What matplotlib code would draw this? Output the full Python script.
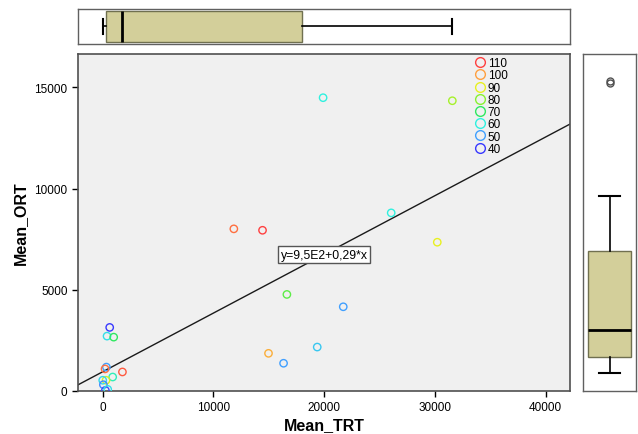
import matplotlib.pyplot as plt
import numpy as np
from matplotlib import colors
from matplotlib.lines import Line2D

plt.rcParams['font.family'] = ['Liberation Sans', 'DejaVu Sans']

## DATA

mean_trt = [19900, 31570, 26050, 11840, 14430, 30210, 16630, 21720, 19370, 14970,
            16330, 630, 390, 990, 330, 210, 1780, 900, 300, 0, 60, 240, 450]
mean_ort = [14490, 14340, 8800, 8010, 7940, 7350, 4770, 4160, 2170, 1860,
            1370, 3140, 2710, 2660, 1180, 1090, 940, 690, 530, 530, 310, 30, 80]
group_val = [60, 83, 60, 105, 110, 90, 75, 50, 55, 98,
             50, 40, 58, 70, 50, 105, 107, 63, 88, 57, 48, 42, 58]

legend_vals = [110, 100, 90, 80, 70, 60, 50, 40]
legend_cols = ['#ff4040', '#ffa040', '#e8f020', '#88f030',
               '#30e860', '#30f0e0', '#40a0ff', '#3838ff']

fit_intercept = 9.5e2
fit_slope = 0.29
fit_label = 'y=9,5E2+0,29*x'

# marginal box plots
trt_box = dict(whislo=30, q1=330, med=1770, q3=18000, whishi=31500, fliers=[])
ort_box = dict(whislo=890, q1=1680, med=2990, q3=6910, whishi=9655, fliers=[15200, 15320])

## PLOT

xlim = (-2230, 42200)
ylim = (0, 16650)
box_face = '#d3cf9a'
frame_col = '#606060'

fig = plt.figure(figsize=(6.38, 4.35), dpi=100)
ax = fig.add_axes([0.1223, 0.0989, 0.7712, 0.7747])
ax_top = fig.add_axes([0.1223, 0.8966, 0.7712, 0.0805])
ax_right = fig.add_axes([0.9138, 0.0989, 0.0831, 0.7747])

cmap = colors.LinearSegmentedColormap.from_list('grp', list(zip(
    np.linspace(0, 1, len(legend_vals)), legend_cols[::-1])))
norm = colors.Normalize(min(legend_vals), max(legend_vals))

ax.set_facecolor('#f0f0f0')
ax.scatter(mean_trt, mean_ort, s=28, facecolors='none',
           edgecolors=cmap(norm(np.array(group_val))), linewidths=1.0, zorder=3)
ax.axline((0, fit_intercept), slope=fit_slope, color='#1a1a1a', lw=1.0, zorder=2)
ax.text(20000, 6730, fit_label, ha='center', va='center', fontsize=8.8,
        bbox=dict(boxstyle='square,pad=0.2', fc='white', ec='#555555', lw=1.0), zorder=4)

ax.set_xlim(xlim)
ax.set_ylim(ylim)
ax.set_xticks([0, 10000, 20000, 30000, 40000])
ax.set_yticks([0, 5000, 10000, 15000])
ax.tick_params(labelsize=8.5, length=4, width=1, direction='out')
ax.set_xlabel('Mean_TRT', fontsize=11.5, fontweight='bold', labelpad=3)
ax.set_ylabel('Mean_ORT', fontsize=11.5, fontweight='bold', labelpad=5)
for sp in ax.spines.values():
    sp.set_color('#505050')
    sp.set_linewidth(1.2)

handles = [Line2D([], [], ls='none', marker='o', ms=7, mfc='none', mec=c, mew=1.0)
           for c in legend_cols]
ax.legend(handles, [str(v) for v in legend_vals], loc='upper right',
          bbox_to_anchor=(0.89, 1.015), frameon=False, fontsize=8.5,
          handlelength=0.8, handletextpad=0.3, labelspacing=0.02, borderpad=0.2)

box_kw = dict(patch_artist=True, showfliers=True,
              boxprops=dict(facecolor=box_face, edgecolor='#707050', lw=1.0),
              medianprops=dict(color='black', lw=2.0),
              whiskerprops=dict(color='black', lw=1.2),
              capprops=dict(color='black', lw=1.5),
              flierprops=dict(marker='o', ms=5, mfc='none', mec='#505050', mew=1.0))

ax_top.bxp([trt_box], positions=[0], widths=0.86, vert=False, capwidths=0.43, **box_kw)
ax_top.set_xlim(xlim)
ax_top.set_ylim(-0.5, 0.5)

ax_right.bxp([ort_box], positions=[0], widths=0.8, vert=True, capwidths=0.4, **box_kw)
ax_right.set_ylim(ylim)
ax_right.set_xlim(-0.5, 0.5)

for a in (ax_top, ax_right):
    a.set_xticks([])
    a.set_yticks([])
    for sp in a.spines.values():
        sp.set_color(frame_col)
        sp.set_linewidth(1.0)

fig.savefig('out.png', dpi=100)
